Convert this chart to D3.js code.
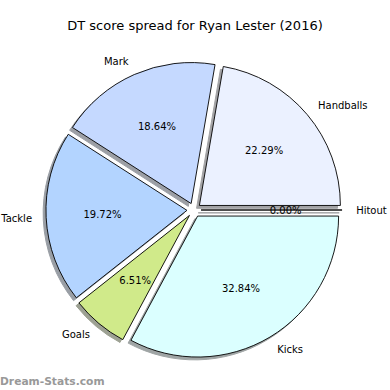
<!DOCTYPE html>
<html>
<head>
<meta charset="utf-8">
<script src="https://cdn.jsdelivr.net/npm/d3@7"></script>
<style>
  html, body { margin: 0; padding: 0; background: #fff; }
  svg { display: block; }
  text { font-family: "DejaVu Sans", sans-serif; }
</style>
</head>
<body>
<svg id="chart" width="390" height="390"></svg>
<script>
const categories = ["Handballs", "Mark", "Tackle", "Goals", "Kicks", "Hitout"];
const values = [22.29, 18.64, 19.72, 6.51, 32.84, 0.00];
const colors = ["#ebf1ff", "#c5d9ff", "#b3d4ff", "#d0ea8a", "#dbffff", "#ebf1ff"];
const title = "DT score spread for Ryan Lester (2016)";
const watermark = "Dream-Stats.com";

const W = 390, H = 390;
const cx = 194, cy = 210, r = 141;
const explode = 0.05 * r;
const shadowOff = 0.02 * r;

const svg = d3.select("#chart");

const data = categories.map((c, i) => ({ cat: c, value: values[i], color: colors[i] }));

// matplotlib style: start at 3 o'clock, counterclockwise
const pie = d3.pie().value(d => d.value).sort(null)
  .startAngle(Math.PI / 2).endAngle(Math.PI / 2 - 2 * Math.PI);
const arcs = pie(data);
const arc = d3.arc().innerRadius(0).outerRadius(r);

const mid = a => (a.startAngle + a.endAngle) / 2;
const off = (a, d) => [Math.sin(mid(a)) * d, -Math.cos(mid(a)) * d];

const g = svg.append("g").attr("transform", `translate(${cx},${cy})`);

// shadows
g.selectAll("path.shadow").data(arcs).enter().append("path")
  .attr("class", "shadow")
  .attr("d", arc)
  .attr("transform", d => { const o = off(d, explode); return `translate(${o[0] - shadowOff},${o[1] + shadowOff})`; })
  .attr("fill", d => { const c = d3.rgb(d.data.color); return d3.rgb(c.r * 0.3, c.g * 0.3, c.b * 0.3); })
  .attr("stroke", d => { const c = d3.rgb(d.data.color); return d3.rgb(c.r * 0.3, c.g * 0.3, c.b * 0.3); })
  .attr("stroke-width", 1)
  .attr("opacity", 0.5);

// wedges
g.selectAll("path.wedge").data(arcs).enter().append("path")
  .attr("class", "wedge")
  .attr("d", arc)
  .attr("transform", d => { const o = off(d, explode); return `translate(${o[0]},${o[1]})`; })
  .attr("fill", d => d.data.color)
  .attr("stroke", "#000")
  .attr("stroke-width", 0.9)
  .attr("stroke-linejoin", "miter");

// category labels
g.selectAll("text.lab").data(arcs).enter().append("text")
  .attr("class", "lab")
  .attr("x", d => off(d, explode + 1.1 * r)[0])
  .attr("y", d => off(d, explode + 1.1 * r)[1])
  .attr("dy", "0.35em")
  .attr("text-anchor", d => Math.sin(mid(d)) > 0 ? "start" : "end")
  .attr("font-size", 10)
  .attr("fill", "#000")
  .text(d => d.data.cat);

// percent labels
g.selectAll("text.pct").data(arcs).enter().append("text")
  .attr("class", "pct")
  .attr("x", d => off(d, explode + 0.6 * r)[0])
  .attr("y", d => off(d, explode + 0.6 * r)[1])
  .attr("dy", "0.35em")
  .attr("text-anchor", "middle")
  .attr("font-size", 10)
  .attr("fill", "#000")
  .text(d => d.data.value.toFixed(2) + "%");

svg.append("text")
  .attr("x", 195).attr("y", 30)
  .attr("text-anchor", "middle")
  .attr("font-size", 13)
  .attr("fill", "#000")
  .text(title);

svg.append("text")
  .attr("x", 0).attr("y", 385)
  .attr("font-size", 10.7)
  .attr("font-weight", "bold")
  .attr("fill", "#999")
  .text(watermark);
</script>
</body>
</html>
